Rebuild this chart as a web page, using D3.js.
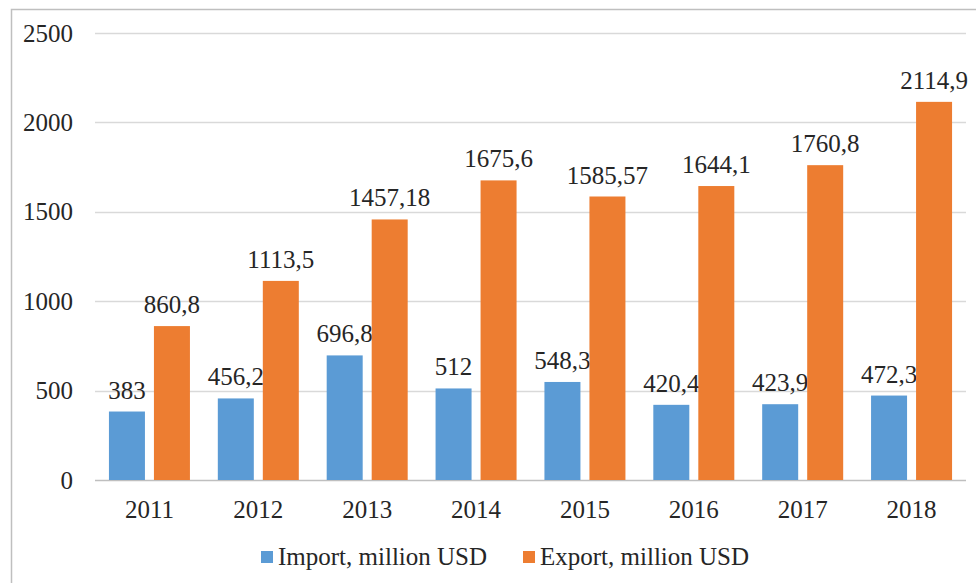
<!DOCTYPE html>
<html><head><meta charset="utf-8">
<script src="https://cdn.jsdelivr.net/npm/d3@7"></script>
<style>body{margin:0;background:#fff}svg{display:block}</style>
</head><body><svg id="c" width="976" height="583"></svg>
<script>
const years = ["2011","2012","2013","2014","2015","2016","2017","2018"];
const importVals = [383, 456.2, 696.8, 512, 548.3, 420.4, 423.9, 472.3];
const exportVals = [860.8, 1113.5, 1457.18, 1675.6, 1585.57, 1644.1, 1760.8, 2114.9];
const importLabels = ["383","456,2","696,8","512","548,3","420,4","423,9","472,3"];
const exportLabels = ["860,8","1113,5","1457,18","1675,6","1585,57","1644,1","1760,8","2114,9"];
const yTicks = [0, 500, 1000, 1500, 2000, 2500];
const seriesNames = ["Import, million USD", "Export, million USD"];
const colors = ["#5B9BD5", "#ED7D31"];
const FONT = "'Liberation Serif', 'Times New Roman', Times, 'DejaVu Serif', serif";

const svg = d3.select("#c").attr("font-family", FONT);
svg.append("rect").attr("x", 11.5).attr("y", 9.5).attr("width", 1000).attr("height", 1000)
  .attr("fill", "none").attr("stroke", "#bfbfbf").attr("stroke-width", 1.5);

const L = 95, R = 966, T = 33, B = 480;
const x = d3.scaleBand().domain(years).range([L, R]);
const y = d3.scaleLinear().domain([0, 2500]).range([B, T]);
const bw = 36;

svg.append("g").selectAll("line").data(yTicks).join("line")
  .attr("x1", L).attr("x2", R)
  .attr("y1", d => Math.round(y(d)) + 0.5).attr("y2", d => Math.round(y(d)) + 0.5)
  .attr("stroke", d => d === 0 ? "#bfbfbf" : "#d9d9d9").attr("stroke-width", 1.3);

const txt = sel => sel.attr("font-family", FONT).attr("font-size", 25).attr("fill", "#262626");

svg.append("g").selectAll("text").data(yTicks).join("text")
  .attr("x", 73).attr("y", d => y(d) + 8.5).attr("text-anchor", "end")
  .call(txt).text(d => d);

svg.append("g").selectAll("text").data(years).join("text")
  .attr("x", d => x(d) + x.bandwidth() / 2).attr("y", 518).attr("text-anchor", "middle")
  .call(txt).text(d => d);

const series = [importVals, exportVals];
const labels = [importLabels, exportLabels];
series.forEach((vals, si) => {
  const g = svg.append("g");
  const cx = (d, i) => x(years[i]) + x.bandwidth() / 2 - 40.5 + si * 45;
  g.selectAll("rect").data(vals).join("rect")
    .attr("x", (d, i) => cx(d, i)).attr("width", bw)
    .attr("y", d => y(d)).attr("height", d => B - y(d))
    .attr("fill", colors[si]);
  g.selectAll("text").data(vals).join("text")
    .attr("x", (d, i) => cx(d, i) + bw / 2).attr("y", d => y(d) - 13)
    .attr("text-anchor", "middle").call(txt)
    .text((d, i) => labels[si][i]);
});

const leg = svg.append("g");
const legX = [261, 523];
seriesNames.forEach((n, i) => {
  leg.append("rect").attr("x", legX[i]).attr("y", 551).attr("width", 12).attr("height", 12).attr("fill", colors[i]);
  leg.append("text").attr("x", legX[i] + 17).attr("y", 565).call(txt).text(n);
});
</script></body></html>
